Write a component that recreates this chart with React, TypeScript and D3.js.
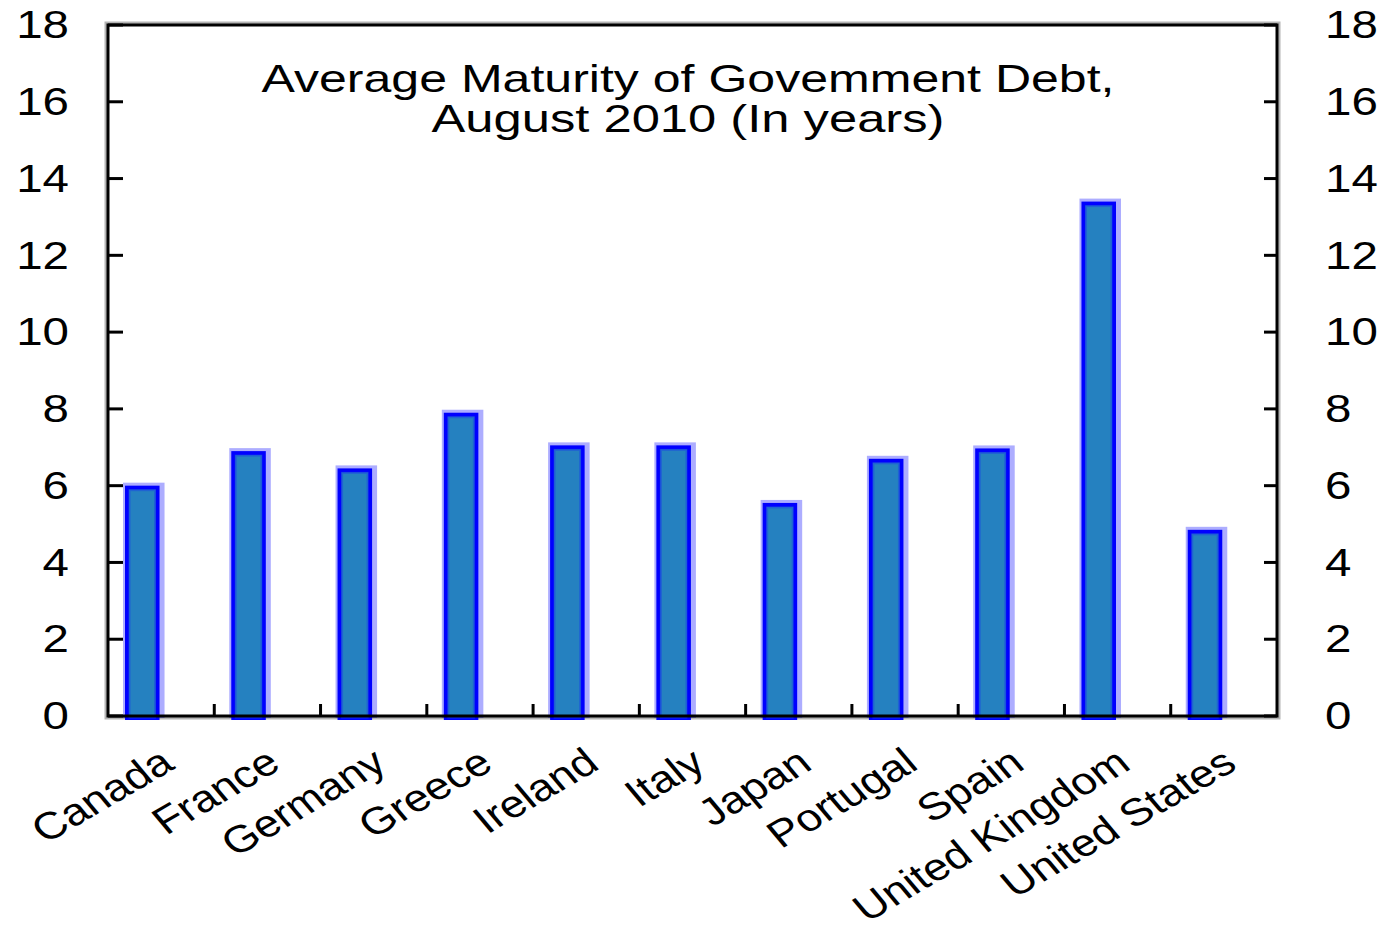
import React from "react";
import * as d3 from "d3";

const categories = [
  "Canada", "France", "Germany", "Greece", "Ireland", "Italy",
  "Japan", "Portugal", "Spain", "United Kingdom", "United States",
];
const values = [6.0, 6.9, 6.45, 7.9, 7.05, 7.05, 5.55, 6.7, 6.97, 13.4, 4.85];
const yTicks = [0, 2, 4, 6, 8, 10, 12, 14, 16, 18];
const titleLines = ["Average Maturity of Govemment Debt,", "August 2010 (In years)"];

const W = 1383;
const H = 938;
const left = 108;
const right = 1277;
const top = 25;
const bottom = 716;
const FONT = "'Liberation Sans', Arial, Helvetica, sans-serif";

export default function App() {
  const x = d3.scaleBand<string>().domain(categories).range([left, right]).paddingInner(0).paddingOuter(0);
  const y = d3.scaleLinear().domain([0, 18]).range([bottom, top]);
  const bw = x.bandwidth();
  const barOff = bw * 0.16;
  const barW = bw * 0.325;

  return (
    <svg width={W} height={H} style={{ position: "absolute", left: 0, top: 0, background: "#fff" }}>
      {/* frame shadow */}
      <rect x={left} y={top} width={right - left} height={bottom - top} fill="none" stroke="#b4b4b4" strokeWidth={7} />
      <rect x={left} y={top} width={right - left} height={bottom - top} fill="#fff" stroke="none" />

      {/* bars */}
      {categories.map((c, i) => {
        const bx = (x(c) as number) + barOff;
        const by = y(values[i]);
        const bh = y(0) - by + 2;
        return (
          <g key={c}>
            <rect x={bx - 2} y={by - 3} width={barW + 7} height={bh + 3} fill="rgba(0,0,255,0.32)" />
            <rect x={bx + 2} y={by + 2} width={barW - 4} height={bh - 2} fill="#2581C0" stroke="#0000FF" strokeWidth={4} />
            <rect x={bx + 4.5} y={by + 4.5} width={barW - 9} height={bh - 5} fill="none" stroke="#1D4FE0" strokeWidth={2} opacity={0.6} />
          </g>
        );
      })}

      {/* frame */}
      <rect x={left} y={top} width={right - left} height={bottom - top} fill="none" stroke="#000" strokeWidth={3} />

      {/* y ticks left & right */}
      {yTicks.map((t) => (
        <g key={t}>
          <line x1={left} x2={left + 15} y1={y(t)} y2={y(t)} stroke="#000" strokeWidth={3} />
          <line x1={right - 13} x2={right} y1={y(t)} y2={y(t)} stroke="#000" strokeWidth={3} />
          <text
            transform={`translate(69,${y(t)}) scale(1.25,1)`}
            textAnchor="end"
            dominantBaseline="central"
            fontFamily={FONT}
            fontSize={38}
            fill="#000"
          >
            {t}
          </text>
          <text
            transform={`translate(1325,${y(t)}) scale(1.25,1)`}
            textAnchor="start"
            dominantBaseline="central"
            fontFamily={FONT}
            fontSize={38}
            fill="#000"
          >
            {t}
          </text>
        </g>
      ))}

      {/* x boundary ticks */}
      {categories.slice(1).map((c) => (
        <line key={c} x1={x(c) as number} x2={x(c) as number} y1={bottom} y2={bottom - 12} stroke="#000" strokeWidth={3} />
      ))}

      {/* category labels */}
      {categories.map((c) => {
        const cx = (x(c) as number) + barOff + barW / 2 + 34;
        return (
          <text
            key={c}
            transform={`translate(${cx},768) scale(1.2,1) rotate(-35)`}
            textAnchor="end"
            fontFamily={FONT}
            fontSize={38}
            fill="#000"
          >
            {c}
          </text>
        );
      })}

      {/* title */}
      <text x={688} y={92} textAnchor="middle" fontFamily={FONT} fontSize={39} fill="#000" textLength={853} lengthAdjust="spacingAndGlyphs">
        {titleLines[0]}
      </text>
      <text x={688} y={132} textAnchor="middle" fontFamily={FONT} fontSize={39} fill="#000" textLength={513} lengthAdjust="spacingAndGlyphs">
        {titleLines[1]}
      </text>
    </svg>
  );
}
